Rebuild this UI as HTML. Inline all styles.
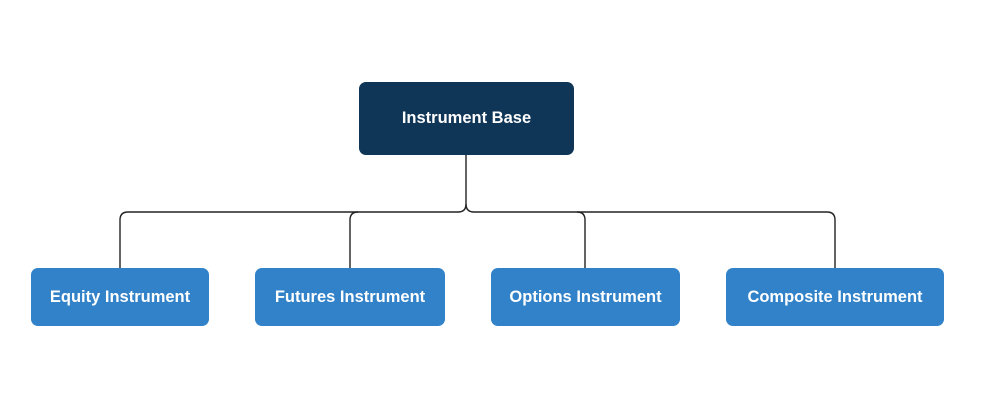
<!DOCTYPE html>
<html><head><style>
body{margin:0;width:988px;height:419px;background:#fff;position:relative;font-family:"Liberation Sans",sans-serif;overflow:hidden}
.b{position:absolute;border-radius:7px;color:#fff;font-weight:bold;font-size:16.5px;display:flex;align-items:center;justify-content:center}
.c{background:#3182c8;top:268px;height:58px}
</style></head><body>
<svg width="988" height="419" style="position:absolute;left:0;top:0">
<g fill="none" stroke="#222" stroke-width="1.4">
<path d="M466 155 V204 Q466 212 458 212 H128 Q120 212 120 220 V268"/>
<path d="M358 212 Q350 212 350 220 V268"/>
<path d="M466 204 Q466 212 474 212 H827 Q835 212 835 220 V268"/>
<path d="M577 212 Q585 212 585 220 V268"/>
</g></svg>
<div class="b" style="background:#0f3557;left:359px;top:82px;width:215px;height:73px">Instrument Base</div>
<div class="b c" style="left:31px;width:178px">Equity Instrument</div>
<div class="b c" style="left:255px;width:190px">Futures Instrument</div>
<div class="b c" style="left:491px;width:189px">Options Instrument</div>
<div class="b c" style="left:726px;width:218px">Composite Instrument</div>
</body></html>
